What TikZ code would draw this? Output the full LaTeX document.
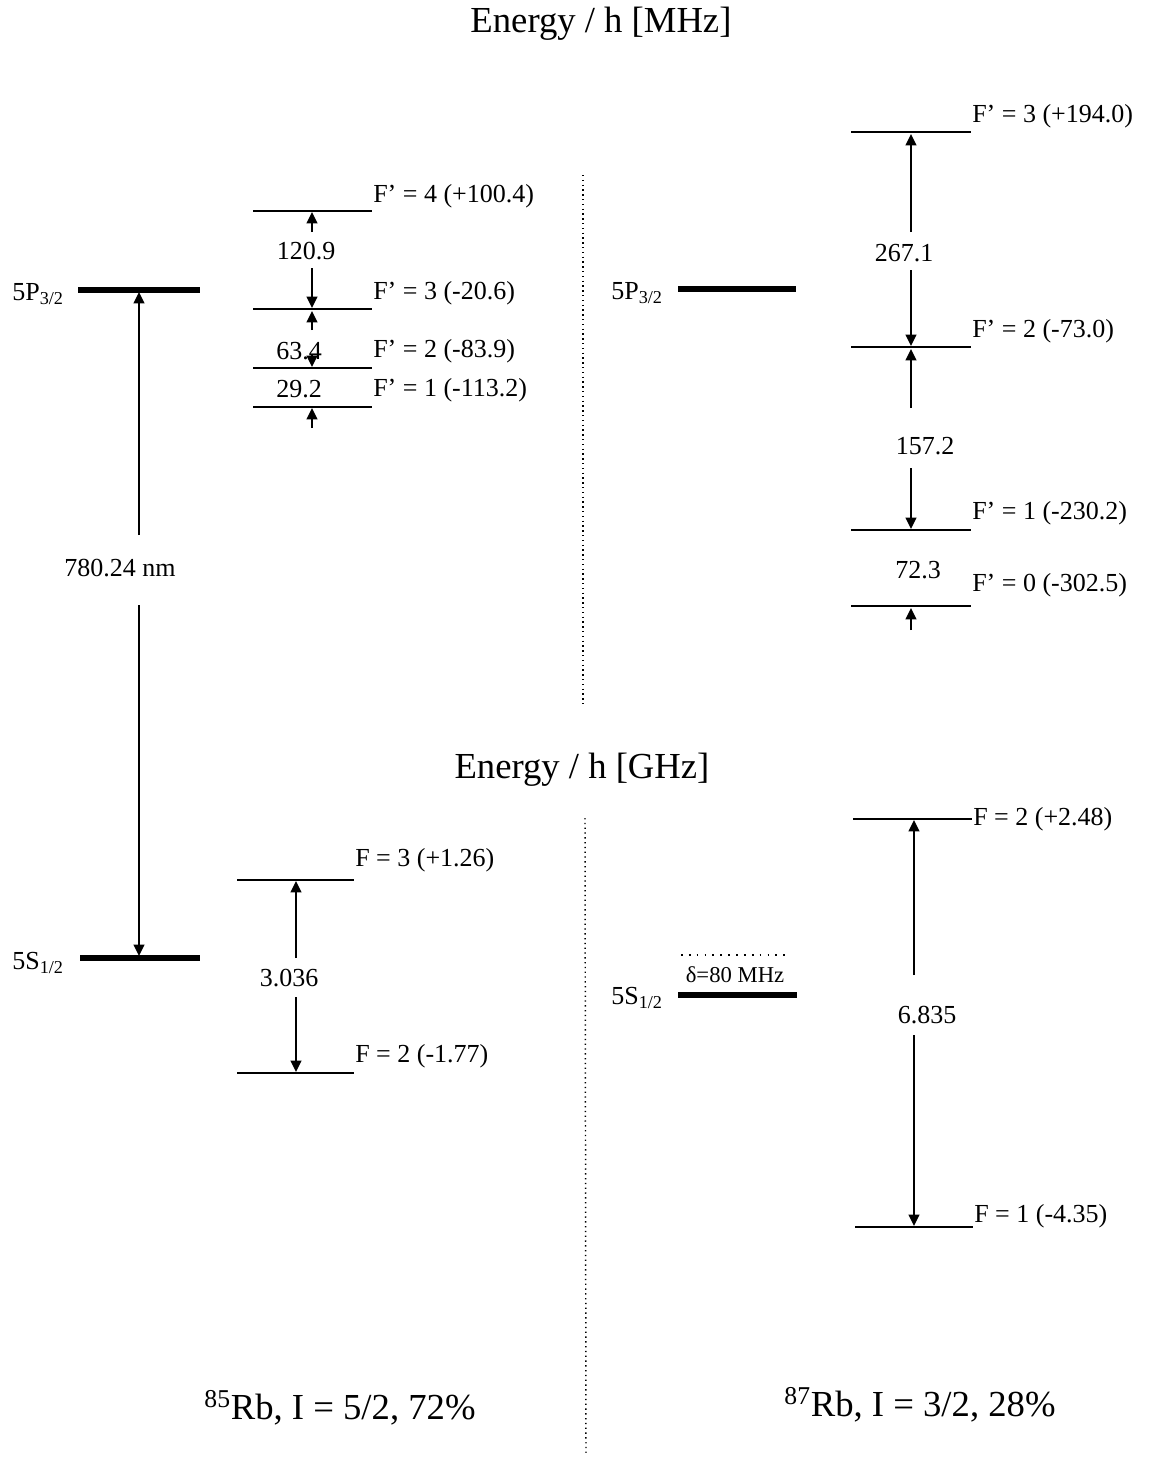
\documentclass[tikz,border=0pt]{standalone}
\usepackage{fontspec}
\setmainfont{Liberation Serif}
\usetikzlibrary{arrows.meta}
\begin{document}
\begin{tikzpicture}[x=0.75pt,y=-0.75pt,
  level/.style={line width=2.1pt},
  thicklevel/.style={line width=3.9pt},
  arr/.style={line width=1.3pt,-{Triangle[length=8.5pt,width=8pt]}},
  lbl/.style={font=\fontsize{19.5}{22}\selectfont, inner sep=0pt},
  small/.style={font=\fontsize{17}{20}\selectfont, inner sep=0pt},
  title/.style={font=\fontsize{27.5}{32}\selectfont, inner sep=0pt},
  sep/.style={line width=1.1pt, dash pattern=on 1pt off 2.6pt},
  dotline/.style={line width=1.5pt, dash pattern=on 1.3pt off 4.6pt}
]
\useasboundingbox (0,0) rectangle (1150,1457);

% titles
\node[title] (t1) at (601,24) {Energy / h [MHz]};
\node[title] (t2) at (582,770) {Energy / h [GHz]};

% separators
\coordinate (d1a) at (583,175); \coordinate (d1b) at (583,705);
\draw[sep] (d1a) -- (d1b);
\coordinate (d2a) at (585,818); \coordinate (d2b) at (586,1455);
\draw[sep] (d2a) -- (d2b);

% ===== 85Rb =====
\coordinate (p85l) at (78,290); \coordinate (p85r) at (200,290);
\draw[thicklevel] (p85l) -- (p85r);
\node[lbl, anchor=east] (p85lab) at (64,294) {5P\textsubscript{3/2}};
\coordinate (s85l) at (80,958); \coordinate (s85r) at (200,958);
\draw[thicklevel] (s85l) -- (s85r);
\node[lbl, anchor=east] (s85lab) at (64,963) {5S\textsubscript{1/2}};

\node[lbl] (n780) at (120,568) {780.24 nm};
\coordinate (a780t) at (139,535); \coordinate (a780tip) at (139,292);
\coordinate (a780b) at (139,605); \coordinate (a780bip) at (139,956);
\draw[arr] (a780t) -- (a780tip);
\draw[arr] (a780b) -- (a780bip);

% 85Rb excited hyperfine
\coordinate (e4l) at (253,211); \coordinate (e4r) at (372,211);
\coordinate (e3l) at (253,309); \coordinate (e3r) at (372,309);
\coordinate (e2l) at (253,368); \coordinate (e2r) at (372,368);
\coordinate (e1l) at (253,407); \coordinate (e1r) at (372,407);
\draw[level] (e4l) -- (e4r);
\draw[level] (e3l) -- (e3r);
\draw[level] (e2l) -- (e2r);
\draw[level] (e1l) -- (e1r);
\node[lbl, anchor=west] (e4lab) at (373,196) {F’ = 4 (+100.4)};
\node[lbl, anchor=west] (e3lab) at (373,293) {F’ = 3 (-20.6)};
\node[lbl, anchor=west] (e2lab) at (373,351) {F’ = 2 (-83.9)};
\node[lbl, anchor=west] (e1lab) at (373,390) {F’ = 1 (-113.2)};

\node[lbl] (n1209) at (306,251) {120.9};
\node[lbl] (n634) at (299,351) {63.4};
\node[lbl] (n292) at (299,389) {29.2};
\coordinate (h1a) at (312,232); \coordinate (h1b) at (312,212);
\coordinate (h2a) at (312,268); \coordinate (h2b) at (312,308);
\coordinate (h3a) at (312,330); \coordinate (h3b) at (312,311);
\coordinate (h4a) at (312,355); \coordinate (h4b) at (312,367);
\coordinate (h5a) at (312,428); \coordinate (h5b) at (312,408);
\draw[arr] (h1a) -- (h1b);
\draw[arr] (h2a) -- (h2b);
\draw[arr] (h3a) -- (h3b);
\draw[arr] (h4a) -- (h4b);
\draw[arr] (h5a) -- (h5b);

% 85Rb ground hyperfine
\coordinate (g3l) at (237,880); \coordinate (g3r) at (354,880);
\coordinate (g2l) at (237,1073); \coordinate (g2r) at (354,1073);
\draw[level] (g3l) -- (g3r);
\draw[level] (g2l) -- (g2r);
\node[lbl, anchor=west] (g3lab) at (355,860) {F = 3 (+1.26)};
\node[lbl, anchor=west] (g2lab) at (355,1056) {F = 2 (-1.77)};
\node[lbl] (n3036) at (289,978) {3.036};
\coordinate (k1a) at (296,958); \coordinate (k1b) at (296,881);
\coordinate (k2a) at (296,997); \coordinate (k2b) at (296,1072);
\draw[arr] (k1a) -- (k1b);
\draw[arr] (k2a) -- (k2b);

\node[title] (rb85) at (340,1408) {\textsuperscript{85}Rb, I = 5/2, 72\%};

% ===== 87Rb =====
\coordinate (p87l) at (678,289); \coordinate (p87r) at (796,289);
\draw[thicklevel] (p87l) -- (p87r);
\node[lbl, anchor=east] (p87lab) at (663,293) {5P\textsubscript{3/2}};

\coordinate (f3l) at (851,132); \coordinate (f3r) at (971,132);
\coordinate (f2l) at (851,347); \coordinate (f2r) at (971,347);
\coordinate (f1l) at (851,530); \coordinate (f1r) at (971,530);
\coordinate (f0l) at (851,606); \coordinate (f0r) at (971,606);
\draw[level] (f3l) -- (f3r);
\draw[level] (f2l) -- (f2r);
\draw[level] (f1l) -- (f1r);
\draw[level] (f0l) -- (f0r);
\node[lbl, anchor=west] (f3lab) at (972,116) {F’ = 3 (+194.0)};
\node[lbl, anchor=west] (f2lab) at (972,331) {F’ = 2 (-73.0)};
\node[lbl, anchor=west] (f1lab) at (972,513) {F’ = 1 (-230.2)};
\node[lbl, anchor=west] (f0lab) at (972,585) {F’ = 0 (-302.5)};

\node[lbl] (n2671) at (904,253) {267.1};
\node[lbl] (n1572) at (925,446) {157.2};
\node[lbl] (n723) at (918,570) {72.3};
\coordinate (m1a) at (911,232); \coordinate (m1b) at (911,134);
\coordinate (m2a) at (911,270); \coordinate (m2b) at (911,346);
\coordinate (m3a) at (911,408); \coordinate (m3b) at (911,349);
\coordinate (m4a) at (911,468); \coordinate (m4b) at (911,529);
\coordinate (m5a) at (911,630); \coordinate (m5b) at (911,608);
\draw[arr] (m1a) -- (m1b);
\draw[arr] (m2a) -- (m2b);
\draw[arr] (m3a) -- (m3b);
\draw[arr] (m4a) -- (m4b);
\draw[arr] (m5a) -- (m5b);

% 87Rb ground
\coordinate (dl) at (681,955); \coordinate (dr) at (790,955);
\draw[dotline] (dl) -- (dr);
\node[small] (delta) at (735,975) {δ=80 MHz};
\coordinate (s87l) at (678,995); \coordinate (s87r) at (797,995);
\draw[thicklevel] (s87l) -- (s87r);
\node[lbl, anchor=east] (s87lab) at (663,998) {5S\textsubscript{1/2}};

\coordinate (q2l) at (853,819); \coordinate (q2r) at (972,819);
\coordinate (q1l) at (855,1227); \coordinate (q1r) at (973,1227);
\draw[level] (q2l) -- (q2r);
\draw[level] (q1l) -- (q1r);
\node[lbl, anchor=west] (q2lab) at (973,819) {F = 2 (+2.48)};
\node[lbl, anchor=west] (q1lab) at (974,1216) {F = 1 (-4.35)};
\node[lbl] (n6835) at (927,1015) {6.835};
\coordinate (r1a) at (914,975); \coordinate (r1b) at (914,820);
\coordinate (r2a) at (914,1035); \coordinate (r2b) at (914,1226);
\draw[arr] (r1a) -- (r1b);
\draw[arr] (r2a) -- (r2b);

\node[title] (rb87) at (920,1405) {\textsuperscript{87}Rb, I = 3/2, 28\%};
\end{tikzpicture}
\end{document}
